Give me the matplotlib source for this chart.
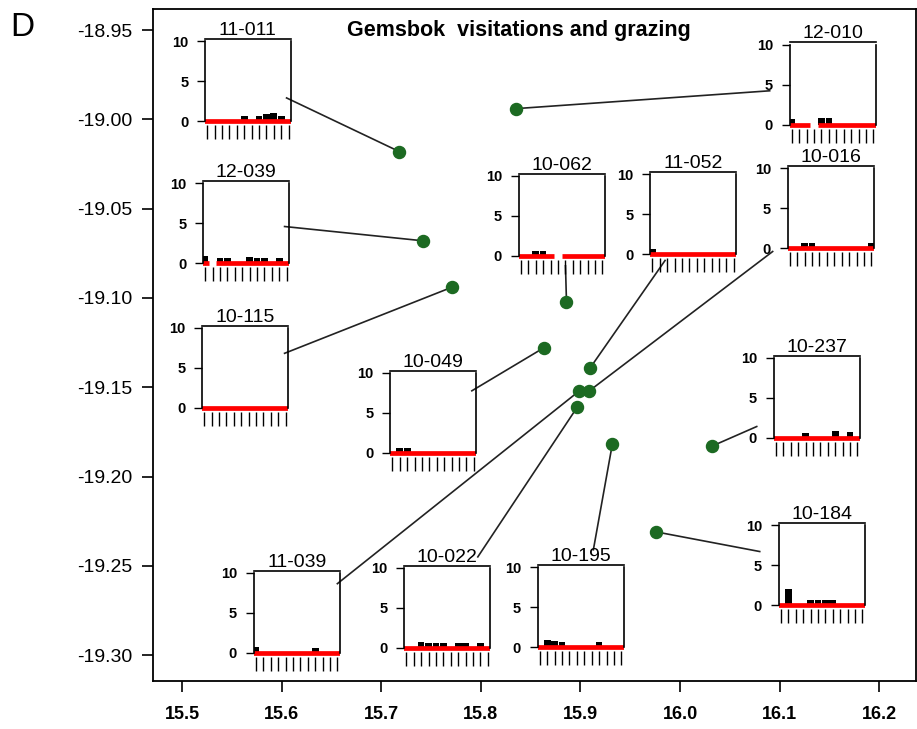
import numpy as np
import matplotlib.pyplot as plt

plt.rcParams['font.family'] = ['Liberation Sans', 'DejaVu Sans']

# sites: label, location of the dot, end of the connector line near the inset
sites = ["11-011", "12-010", "12-039", "10-115", "10-062", "11-052", "10-016",
         "10-049", "10-237", "10-184", "11-039", "10-022", "10-195"]
site_lon = [15.718, 15.835, 15.742, 15.771, 15.886, 15.910, 15.909,
            15.863, 16.032, 15.976, 15.899, 15.897, 15.932]
site_lat = [-19.018, -18.994, -19.068, -19.094, -19.102, -19.139, -19.152,
            -19.128, -19.183, -19.231, -19.152, -19.161, -19.182]
anchor_lon = [15.605, 16.090, 15.603, 15.603, 15.885, 15.985, 16.093,
              15.791, 16.077, 16.080, 15.656, 15.797, 15.913]
anchor_lat = [-18.988, -18.984, -19.060, -19.131, -19.082, -19.079, -19.074,
              -19.152, -19.172, -19.242, -19.260, -19.245, -19.241]

# where each small bar chart sits (lon of its left edge, lat of its zero line)
inset_lon = [15.523, 16.110, 15.521, 15.520, 15.838, 15.970, 16.108,
             15.709, 16.094, 16.099, 15.572, 15.723, 15.857]
inset_lat = [-19.001, -19.003, -19.0805, -19.1616, -19.0765, -19.0754, -19.0721,
             -19.1868, -19.1784, -19.272, -19.2988, -19.296, -19.2955]

# monthly visitations (black bars); nan = month without data
nan = np.nan
visits = [
    [0, 0, 0, 0, 0, 0.6, 0, 0.7, 0.9, 1.0, 0.6, 0],
    [0.7, 0, 0, nan, 0.8, 0.8, 0, 0, 0, 0, 0, 0],
    [0.9, nan, 0.6, 0.6, 0, 0, 0.8, 0.7, 0.7, 0, 0.6, 0],
    [0, 0, 0, 0, 0, 0, 0, 0, 0, 0, 0, 0],
    [0, 0, 0.6, 0.6, 0, nan, 0, 0, 0, 0, 0, 0],
    [0.6, 0, 0, 0, 0, 0, 0, 0, 0, 0, 0, 0],
    [0, 0, 0.6, 0.6, 0, 0, 0, 0, 0, 0, 0, 0.7],
    [0, 0.6, 0.6, 0, 0, 0, 0, 0, 0, 0, 0, 0],
    [0, 0, 0, 0, 0.6, 0, 0, 0, 0.9, 0, 0.7, 0],
    [0, 2.0, 0, 0, 0.6, 0.6, 0.6, 0.6, 0, 0, 0, 0],
    [0.7, 0, 0, 0, 0, 0, 0, 0, 0.6, 0, 0, 0],
    [0, 0, 0.8, 0.6, 0.6, 0.6, 0, 0.6, 0.6, 0, 0.6, 0],
    [0, 0.9, 0.8, 0.6, 0, 0, 0, 0, 0.6, 0, 0, 0],
]
months = np.arange(12)

W, H = 917, 729
fig = plt.figure(figsize=(W / 100, H / 100), dpi=100)
ax = fig.add_axes([153 / W, 48 / H, 763 / W, 672 / H])
ax.set_xlim(15.4709, 16.2369)
ax.set_ylim(-19.3145, -18.9382)
ax.set_xticks(np.arange(15.5, 16.25, 0.1))
ax.set_xticklabels([f"{v:.1f}" for v in np.arange(15.5, 16.25, 0.1)],
                   fontsize=13, fontweight='bold')
ax.set_yticks(np.arange(-19.30, -18.94, 0.05))
ax.set_yticklabels([f"{v:.2f}" for v in np.arange(-19.30, -18.94, 0.05)], fontsize=14)
ax.tick_params(direction='out', length=8, width=1.2, pad=7)
ax.tick_params(axis='x', pad=10)
for s in ax.spines.values():
    s.set_linewidth(1.3)

ax.text(15.838, -18.9505, "Gemsbok  visitations and grazing", fontsize=15.5,
        fontweight='bold', ha='center', va='center')
fig.text(10 / W, 1 - 27 / H, "D", fontsize=24, va='center', ha='left')

# connector lines and dots
for i in range(len(sites)):
    ax.plot([anchor_lon[i], site_lon[i]], [anchor_lat[i], site_lat[i]],
            color='#222222', lw=1.2, zorder=2)
ax.scatter(site_lon, site_lat, s=75, color='#1c6a22', zorder=4)

# little bar charts
unit = 0.0448 / 10  # lat per one count in the insets
for i in range(len(sites)):
    ia = ax.inset_axes([inset_lon[i], inset_lat[i] - 0.5 * unit, 0.0863, 10.8 * unit],
                       transform=ax.transData, zorder=3)
    ia.set_facecolor('none')
    v = np.array(visits[i], dtype=float)
    ok = ~np.isnan(v)
    ia.bar(months[ok], v[ok], width=0.9, color='black')
    # red grazing line, broken where a month has no data
    rx = np.ravel(np.column_stack([months - 0.5, months + 0.5]))
    ry = np.repeat(np.where(ok, 0.0, np.nan), 2)
    ia.plot(rx, ry, color='red', lw=3.4, solid_capstyle='butt')
    ia.set_xlim(-0.3, 11.3)
    ia.set_ylim(-0.5, 10.3)
    ia.set_xticks(months)
    ia.set_xticklabels([])
    ia.set_yticks([0, 5, 10])
    ia.set_yticklabels(["0", "5", "10"], fontsize=10.5, fontweight='bold')
    ia.tick_params(axis='x', direction='out', length=10, width=1)
    ia.tick_params(axis='y', direction='out', length=6, width=1, pad=6)
    ia.spines['bottom'].set_visible(False)
    ia.spines['left'].set_bounds(0, 10)
    ia.spines['right'].set_bounds(0, 10)
    for s in ia.spines.values():
        s.set_linewidth(1.2)
    ia.set_title(sites[i], fontsize=14, pad=2)

plt.savefig("out.png", dpi=100)
